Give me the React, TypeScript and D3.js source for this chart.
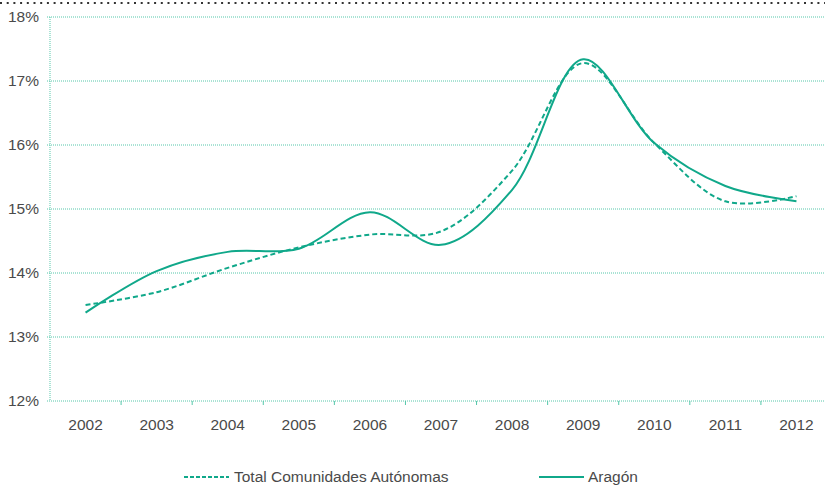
import { curveCatmullRom, line as d3_line, scaleBand, scaleLinear } from "d3";

const years = ["2002", "2003", "2004", "2005", "2006", "2007", "2008", "2009", "2010", "2011", "2012"];
const totalCCAA = [13.5, 13.7, 14.08, 14.4, 14.6, 14.65, 15.6, 17.28, 16.03, 15.12, 15.2];
const aragon = [13.38, 14.03, 14.33, 14.38, 14.95, 14.44, 15.3, 17.34, 16.03, 15.36, 15.12];
const yTicks = [12, 13, 14, 15, 16, 17, 18];

const W = 825;
const H = 486;
const left = 50;
const right = 832;
const top = 17;
const bottom = 401;
const lineColor = "#10a88a";
const gridColor = "#55c7aa";
const textColor = "#4a4a4a";
const font = "'Liberation Sans', Arial, sans-serif";

export default function App() {
  const x = scaleBand<string>().domain(years).range([left, right]);
  const y = scaleLinear().domain([12, 18]).range([bottom, top]);
  const cx = (i: number) => (x(years[i]) ?? 0) + x.bandwidth() / 2;

  const path = d3_line<number>()
    .x((_, i) => cx(i))
    .y((d) => y(d))
    .curve(curveCatmullRom.alpha(0.5));

  return (
    <svg
      width={W}
      height={H}
      style={{ position: "absolute", left: 0, top: 0, background: "#fff" }}
    >
      {/* línea punteada superior */}
      <line
        x1={0}
        x2={W}
        y1={3}
        y2={3}
        stroke="#333"
        strokeWidth={2}
        strokeDasharray="2,4.7"
      />

      {/* cuadrícula */}
      {yTicks.map((t) => (
        <g key={t}>
          <line
            x1={left - 3}
            x2={W}
            y1={y(t)}
            y2={y(t)}
            stroke={gridColor}
            strokeWidth={1}
            strokeDasharray="1,1"
          />
          <text
            x={39}
            y={y(t)}
            dy="0.35em"
            textAnchor="end"
            fontFamily={font}
            fontSize={15.5}
            fill={textColor}
          >
            {t}%
          </text>
        </g>
      ))}

      {/* eje Y */}
      <line
        x1={left}
        x2={left}
        y1={top}
        y2={bottom}
        stroke={gridColor}
        strokeWidth={1}
        strokeDasharray="1,1"
      />

      {/* marcas del eje X */}
      {years.slice(1).map((yr) => (
        <line
          key={yr}
          x1={x(yr)}
          x2={x(yr)}
          y1={bottom}
          y2={bottom + 4}
          stroke={gridColor}
          strokeWidth={1}
        />
      ))}
      {years.map((yr, i) => (
        <text
          key={yr}
          x={cx(i)}
          y={430}
          textAnchor="middle"
          fontFamily={font}
          fontSize={15.5}
          fill={textColor}
        >
          {yr}
        </text>
      ))}

      {/* series */}
      <path
        d={path(totalCCAA) ?? ""}
        fill="none"
        stroke={lineColor}
        strokeWidth={2}
        strokeDasharray="5,3"
      />
      <path d={path(aragon) ?? ""} fill="none" stroke={lineColor} strokeWidth={2} />

      {/* leyenda */}
      <line
        x1={184}
        x2={229}
        y1={477}
        y2={477}
        stroke={lineColor}
        strokeWidth={2}
        strokeDasharray="4,2"
      />
      <text x={234} y={482} fontFamily={font} fontSize={15.5} fill={textColor}>
        Total Comunidades Autónomas
      </text>
      <line x1={539} x2={584} y1={477} y2={477} stroke={lineColor} strokeWidth={2} />
      <text x={588} y={482} fontFamily={font} fontSize={15.5} fill={textColor}>
        Aragón
      </text>
    </svg>
  );
}
